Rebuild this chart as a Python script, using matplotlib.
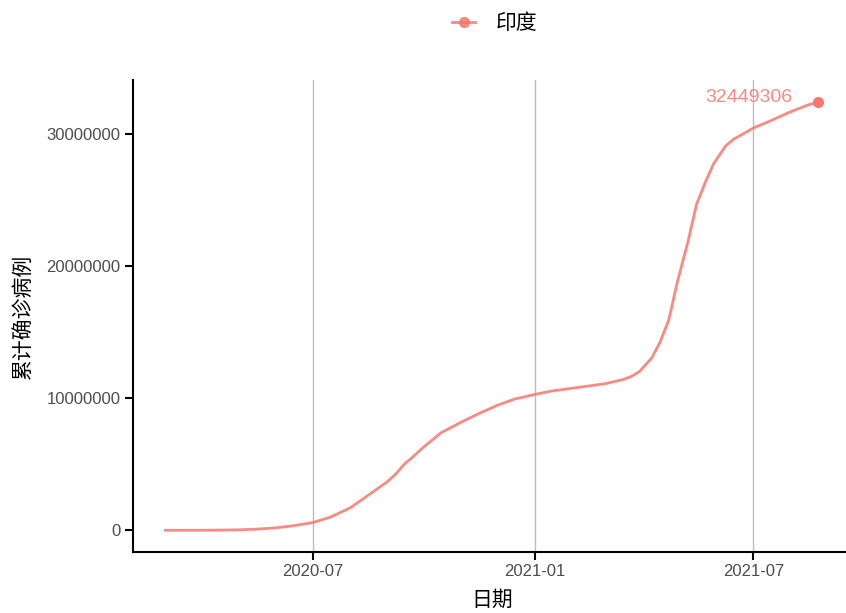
import numpy as np
import pandas as pd
import matplotlib
matplotlib.use("Agg")
import matplotlib.pyplot as plt
import matplotlib.dates as mdates
from matplotlib.lines import Line2D

plt.rcParams['font.family'] = ['Liberation Sans', 'Noto Sans CJK SC', 'DejaVu Sans']

# 印度累计确诊病例
dates = ["2020-03-01", "2020-03-15", "2020-04-01", "2020-04-15", "2020-05-01", "2020-05-15",
         "2020-06-01", "2020-06-15", "2020-07-01", "2020-07-15", "2020-08-01", "2020-08-15",
         "2020-08-22", "2020-09-01", "2020-09-08", "2020-09-15", "2020-09-22", "2020-10-01",
         "2020-10-08", "2020-10-15", "2020-11-01", "2020-11-15",
         "2020-12-01", "2020-12-15", "2021-01-01", "2021-01-15", "2021-02-01", "2021-02-15",
         "2021-03-01", "2021-03-15", "2021-03-22", "2021-03-29", "2021-04-08", "2021-04-15",
         "2021-04-22", "2021-04-29", "2021-05-08", "2021-05-15", "2021-05-22", "2021-05-29",
         "2021-06-08", "2021-06-15", "2021-06-22", "2021-07-01", "2021-07-15", "2021-08-01",
         "2021-08-15", "2021-08-24"]
cases = [3, 110, 1998, 12400, 35000, 82000,
         190000, 343000, 585000, 970000, 1695000, 2590000,
         3040000, 3690000, 4280000, 5020000, 5560000, 6312000,
         6830000, 7370000, 8184000, 8810000,
         9463000, 9930000, 10286000, 10545000, 10757000, 10926000,
         11112000, 11410000, 11650000, 12040000, 13060000, 14290000,
         15930000, 18760000, 21890000, 24680000, 26290000, 27730000,
         29090000, 29630000, 29980000, 30458000, 30990000, 31695000,
         32190000, 32449306]
country = "印度"
color = "#F8766D"

x = pd.to_datetime(dates)

fig = plt.figure(figsize=(8.46, 6.13), dpi=100)
ax = fig.add_axes([0.157, 0.100, 0.849, 0.769])

ax.plot(x, cases, color=color, alpha=0.85, linewidth=2)
ax.plot(x[-1], cases[-1], 'o', color=color, markersize=7)
ax.text(x[-1] - pd.Timedelta(days=22), cases[-1], str(cases[-1]), color=color, alpha=0.85,
        fontsize=14, ha='right', va='baseline')

span = x[-1] - x[0]
ax.set_xlim(x[0] - span * 0.05, x[-1] + span * 0.05)
ax.set_ylim(-max(cases) * 0.05, max(cases) * 1.05)

ax.xaxis.set_major_locator(mdates.MonthLocator(bymonth=[1, 7]))
ax.xaxis.set_major_formatter(mdates.DateFormatter('%Y-%m'))
ax.set_yticks([0, 10000000, 20000000, 30000000])
ax.set_yticklabels(['0', '10000000', '20000000', '30000000'])

ax.grid(axis='x', color='#bdbdbd', linewidth=1)
ax.set_axisbelow(True)
for s in ['top', 'right']:
    ax.spines[s].set_visible(False)
for s in ['left', 'bottom']:
    ax.spines[s].set_linewidth(1.5)
ax.tick_params(length=6, width=1.5, pad=3, colors='black', labelcolor='#4d4d4d', labelsize=12)

ax.set_xlabel("日期", fontsize=15, labelpad=8)
ax.set_ylabel("累计确诊病例", fontsize=15, labelpad=10)

handle = Line2D([0], [0], color=color, alpha=0.85, linewidth=2, marker='o', markersize=7)
fig.legend([handle], [country], loc='center', bbox_to_anchor=(0.585, 0.962),
           frameon=False, fontsize=15, handlelength=1.1, handletextpad=1.0)

plt.savefig("out.png", dpi=100)
